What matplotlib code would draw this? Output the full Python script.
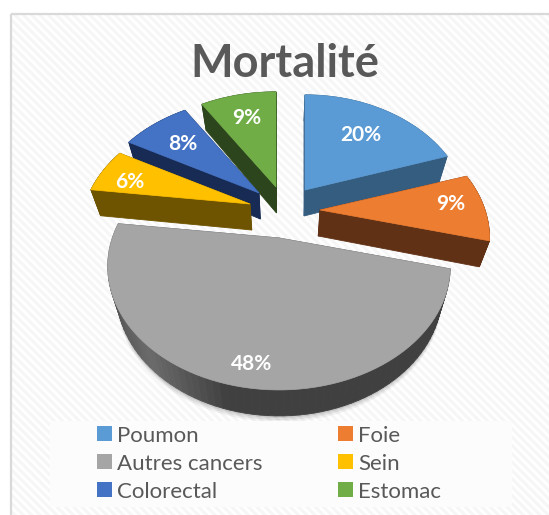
import numpy as np
import matplotlib
matplotlib.use("Agg")
import matplotlib.pyplot as plt
from matplotlib.patches import Polygon, Rectangle, Patch

plt.rcParams['font.family'] = ['Lato', 'DejaVu Sans']
plt.rcParams['hatch.linewidth'] = 2.2

categories = ["Poumon", "Foie", "Autres cancers", "Sein", "Colorectal", "Estomac"]
values = [20, 9, 48, 6, 8, 9]
colors = ["#5B9BD5", "#ED7D31", "#A5A5A5", "#FFC000", "#4472C4", "#70AD47"]
side_colors = ["#355D80", "#603115", "#4A4A4A", "#6E5400", "#172B55", "#2C451C"]
title = "Mortalité"

# layout of the exploded pseudo-3D pie (pixels)
apex_x = [305, 320, 279, 250, 259, 276]
apex_y = [190, 210, 238, 204, 193, 187]
rx_scale = [0.97, 1.0, 1.01, 1.0, 1.0, 1.0]
label_radius = [0.65, 0.80, 0.87, 0.78, 0.70, 0.70]
label_dx = [0, 0, 6, -4, 0, -1]
label_dy = [0, -3, 2, 5, 1, -1]
RX, RY, PERSP, DEPTH = 165, 117, 0.23, 26
BOTTOM_CX, BOTTOM_SHRINK = 285, 0.95
draw_order = [5, 4, 3, 0, 1, 2]

fig = plt.figure(figsize=(5.49, 5.15), dpi=100)
ax = fig.add_axes([0, 0, 1, 1])
ax.set_xlim(0, 549)
ax.set_ylim(515, 0)
ax.axis("off")

ax.add_patch(Rectangle((10.5, 13.5), 560, 520, facecolor="white", edgecolor="none", zorder=0))
ax.add_patch(Rectangle((10.5, 13.5), 560, 520, facecolor="none", edgecolor="#F6F6F6",
                       hatch="\\\\\\\\", linewidth=0, zorder=0.5))
ax.add_patch(Rectangle((10.5, 13.5), 560, 520, facecolor="none", edgecolor="#D9D9D9",
                       linewidth=1.6, zorder=0.6))


def project(theta, rho):
    c, s = np.cos(theta), np.sin(theta)
    scale = 1 / (1 + PERSP * rho * c)
    return RX * rho * s * scale, -RY * rho * c * scale


def lower(x):
    return BOTTOM_CX + (x - BOTTOM_CX) * BOTTOM_SHRINK


edges = np.cumsum([0] + values) / sum(values) * 2 * np.pi
for i in draw_order:
    t = np.linspace(edges[i], edges[i + 1], 80)
    xo, yo = project(t, 1.0)
    xs = np.r_[apex_x[i], apex_x[i] + xo * rx_scale[i]]
    ys = np.r_[apex_y[i], apex_y[i] + yo]
    z = 1 + draw_order.index(i)
    if i == 2:  # soft shadow under the large slice
        for grow, a in [(6, .05), (4, .07), (2, .09)]:
            ax.add_patch(Polygon(np.c_[lower(xs), ys + DEPTH + grow], closed=True, facecolor="black",
                                 edgecolor="none", alpha=a, zorder=z))
    n = len(xs)
    for k in range(n):
        j = (k + 1) % n
        col = side_colors[i]
        if i == 2 and 0 < k < n - 1:
            v = np.interp(xs[k], [104, 150, 230, 460], [0.33, 0.42, 0.25, 0.25])
            col = (v, v, v)
        ax.add_patch(Polygon([(xs[k], ys[k]), (xs[j], ys[j]),
                              (lower(xs[j]), ys[j] + DEPTH), (lower(xs[k]), ys[k] + DEPTH)],
                             closed=True, facecolor=col, edgecolor=col, linewidth=0.6, zorder=z))
    ax.add_patch(Polygon(np.c_[xs, ys], closed=True, facecolor=colors[i], edgecolor=colors[i],
                         linewidth=0.5, zorder=z + 0.5))
    mid = (edges[i] + edges[i + 1]) / 2
    lx, ly = project(mid, label_radius[i])
    ax.text(apex_x[i] + lx + label_dx[i], apex_y[i] + ly + label_dy[i], f"{values[i]}%",
            color="white", fontsize=15, fontweight="bold", ha="center", va="center", zorder=20)

ax.text(285, 64, title, color="#595959", fontsize=32.5, fontweight="bold",
        ha="center", va="center", zorder=20)

ax.add_patch(Rectangle((50, 421), 462, 86, facecolor="#FCFCFC", edgecolor="none", zorder=15))
handles = [Patch(facecolor=c, edgecolor="none", label=n) for c, n in zip(colors, categories)]
# row-wise two-column order
order = [0, 2, 4, 1, 3, 5]
leg = ax.legend([handles[i] for i in order], [categories[i] for i in order], ncols=2,
                loc="upper left", bbox_to_anchor=(81 / 549, 1 - 410 / 515), frameon=False,
                fontsize=16, labelcolor="#595959", handlelength=0.68, handleheight=0.68,
                handletextpad=0.23, labelspacing=0.36, columnspacing=3.4, borderpad=0.2)
leg.set_zorder(21)

fig.savefig("out.png", dpi=100)
